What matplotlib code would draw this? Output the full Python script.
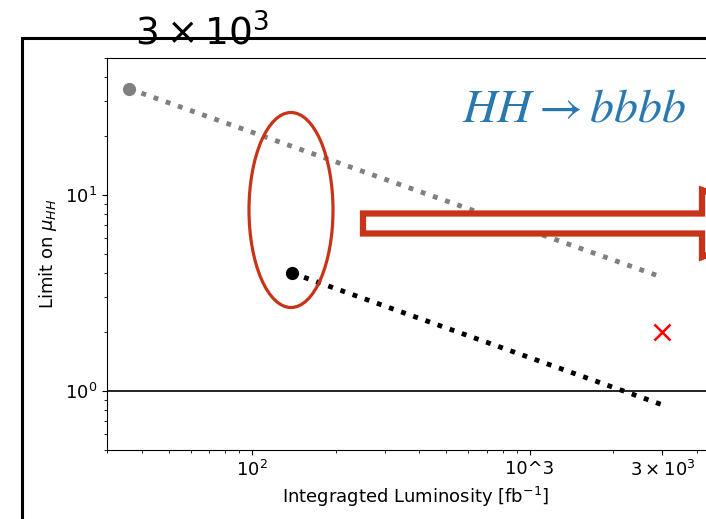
import matplotlib
matplotlib.use("Agg")
import matplotlib.pyplot as plt
from matplotlib.patches import Rectangle, Ellipse, Polygon
from matplotlib.ticker import LogLocator, NullFormatter

# limits on mu_HH vs integrated luminosity
lumi_run2 = [36.1, 3000]
limit_run2 = [34.8, 3.8]

lumi_full = [139, 3000]
limit_full = [4.0, 0.85]

lumi_hl = [3000]
limit_hl = [2.0]

xtick_vals = [100, 1000, 3000]
xtick_labels = ["$10^2$", "10^3", "$3\\times10^3$"]

W, H = 706, 519
fig = plt.figure(figsize=(W / 100, H / 100), dpi=100)


def fx(px):
    return px / W


def fy(py):
    return 1 - py / H


# outer frame of the slide panel
frame = Rectangle((fx(22), fy(600)), fx(760), (600 - 38) / H,
                  transform=fig.transFigure, fill=False, lw=2.2,
                  edgecolor="black", clip_on=False)
fig.patches.append(frame)

fig.text(fx(135), fy(45), "$3\\times10^3$", fontsize=27, ha="left",
         va="baseline")

ax = fig.add_axes([fx(107), fy(450), fx(724) - fx(107), (450 - 58) / H])
ax.set_xscale("log")
ax.set_yscale("log")

ax.plot(lumi_run2, limit_run2, ls=":", lw=3.5, color="gray")
ax.plot(lumi_run2[:1], limit_run2[:1], "o", color="gray", ms=8.5)
ax.plot(lumi_full, limit_full, ls=":", lw=3.5, color="black")
ax.plot(lumi_full[:1], limit_full[:1], "o", color="black", ms=8.5)
ax.plot(lumi_hl, limit_hl, "x", color="red", ms=12, mew=1.8)
ax.axhline(1, color="black", lw=1.2)

ax.set_xlim(30, 5000)
ax.set_ylim(0.5, 50)
ax.set_xticks(xtick_vals)
ax.set_xticklabels(xtick_labels)
ax.xaxis.set_minor_locator(LogLocator(base=10, subs=range(2, 10)))
ax.xaxis.set_minor_formatter(NullFormatter())
ax.yaxis.set_minor_formatter(NullFormatter())
ax.tick_params(labelsize=13)

ax.set_xlabel("Integragted Luminosity [fb$^{-1}$]", fontsize=13)
ax.set_ylabel("Limit on $\\mu_{HH}$", fontsize=13)
ax.spines["right"].set_visible(False)

# annotations on top of the plot
ring = Ellipse((fx(291), fy(210)), fx(84), 195 / H, transform=fig.transFigure,
               fill=False, edgecolor="#c83418", lw=2.3)
fig.patches.append(ring)

arrow_pts = [(363, 213.5), (702, 213.5), (702, 190), (790, 223),
             (702, 257), (702, 233.5), (363, 233.5)]
arrow = Polygon([(fx(x), fy(y)) for x, y in arrow_pts], closed=True,
                transform=fig.transFigure, facecolor="white",
                edgecolor="#c83418", lw=4.5, joinstyle="miter")
fig.patches.append(arrow)

fig.text(fx(462), fy(122), r"$HH{\rightarrow}bbbb$", color="#2a78b0",
         fontsize=34.5, math_fontfamily="stix", ha="left", va="baseline")

fig.savefig("out.png", dpi=100)
